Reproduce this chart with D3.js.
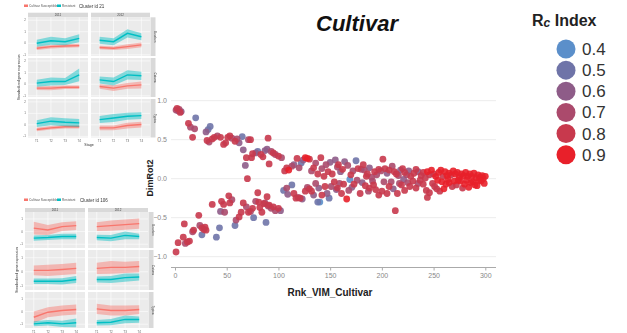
<!DOCTYPE html>
<html>
<head>
<meta charset="utf-8">
<script src="https://cdn.jsdelivr.net/npm/d3@7"></script>
<style>
  html, body { margin: 0; padding: 0; background: #fff; }
  svg { display: block; font-family: Arial, "Liberation Sans", sans-serif; }
</style>
</head>
<body>
<svg id="chart" width="627" height="333"></svg>
<script>
// ---- Main scatter: rank of variable importance vs. rotated dimension 2 ----
const upperRank = [1,2,3,4,5,6,13,15,17,19,20,30,32,34,31,33,36,38,41,44,47,49,51,53,55,58,60,62,65,66,68,69,70,71,73,74,75,78,80,83,85,87,89,90,91,93,95,97,100,103,106,108,110,113,115,118,120,122,124,126,128,130,132,134,136,138,141,142,144,146,148,150,152,155,157,158,160,162,164,167,170,172,175,177,180,182,183,185,186,188,190,193,195,197,199,201,203,205,207,210,212,214,216,218,220,222,224,226,228,231,233,235,238,240,242,244,246,248,250,252,255,257,259,261,263,265,267,269,271,273,275,277,279,281,283,285,287,289,291,293,295,297,298,300];
const upperDim = [0.88,0.90,0.87,0.89,0.85,0.86,0.71,0.66,0.53,0.64,0.78,0.60,0.63,0.67,0.49,0.47,0.51,0.53,0.55,0.53,0.44,0.46,0.53,0.55,0.52,0.48,0.51,0.46,0.54,0.37,0.17,0.27,0.00,0.50,0.50,0.27,0.32,0.33,0.35,0.31,0.28,0.36,0.38,0.52,0.19,0.35,0.33,0.31,0.29,0.27,0.10,0.14,0.11,0.16,0.18,0.26,0.14,0.20,0.24,0.27,0.26,0.25,0.10,0.14,0.20,0.06,0.27,0.13,0.03,0.18,0.09,0.21,0.06,0.24,0.15,0.18,0.09,0.12,0.22,0.17,0.05,0.10,0.23,0.13,0.12,0.18,0.11,0.03,0.06,0.14,0.02,0.09,0.05,0.12,0.10,0.25,0.13,0.07,0.11,0.16,0.09,0.06,0.04,0.11,0.13,0.08,0.05,0.10,0.03,0.07,0.12,0.09,0.04,0.08,0.01,0.09,0.05,0.11,0.06,0.03,0.08,0.11,0.03,0.09,0.04,0.07,0.05,0.10,0.06,0.08,0.02,0.06,0.04,0.08,0.03,0.06,0.03,0.07,0.01,0.05,0.02,0.04,0.00,0.03];
const upperRc = [0.7,0.8,0.6,0.7,0.8,0.6,0.8,0.7,0.8,0.7,0.5,0.6,0.5,0.5,0.8,0.7,0.8,0.8,0.7,0.8,0.8,0.8,0.8,0.8,0.7,0.8,0.7,0.6,0.5,0.6,0.6,0.8,0.8,0.7,0.8,0.8,0.8,0.6,0.5,0.8,0.8,0.6,0.6,0.8,0.8,0.7,0.8,0.7,0.8,0.7,0.8,0.8,0.9,0.7,0.6,0.8,0.7,0.5,0.6,0.9,0.9,0.8,0.7,0.8,0.7,0.8,0.8,0.7,0.8,0.7,0.8,0.6,0.8,0.6,0.7,0.8,0.6,0.8,0.6,0.7,0.8,0.7,0.5,0.8,0.7,0.8,0.7,0.8,0.8,0.6,0.7,0.8,0.7,0.8,0.7,0.8,0.8,0.6,0.8,0.7,0.8,0.8,0.7,0.6,0.8,0.8,0.7,0.6,0.8,0.8,0.8,0.6,0.8,0.8,0.8,0.9,0.8,0.9,0.8,0.9,0.9,0.9,0.8,0.9,0.9,0.9,0.8,0.9,0.9,0.9,0.9,0.9,0.9,0.9,0.9,0.9,0.9,0.9,0.9,0.9,0.9,0.9,0.9,0.9];

const lowerRank = [1,3,8,9,10,12,14,17,18,23,24,26,26,28,29,30,36,40,43,45,47,48,44,52,53,55,58,59,62,64,66,69,71,73,75,76,78,80,81,82,84,86,87,88,89,90,91,93,95,97,100,102,105,108,109,113,115,117,119,121,123,126,128,130,132,134,136,138,139,140,142,145,147,149,151,154,156,157,159,161,163,166,168,169,171,173,176,179,181,184,187,188,191,192,194,197,200,202,205,207,209,211,213,215,217,219,221,222,225,227,230,233,235,237,240,243,244,246,249,251,253,254,256,258,260,262,264,265,268,270,272,274,276,278,280,282,284,286,288,290,292,294,296,299];
const lowerDim = [-0.94,-0.82,-0.75,-0.58,-0.83,-0.81,-0.80,-0.68,-0.66,-0.47,-0.60,-0.63,-0.72,-0.65,-0.62,-0.66,-0.33,-0.75,-0.63,-0.29,-0.33,-0.43,-0.42,-0.22,-0.31,-0.27,-0.60,-0.53,-0.49,-0.43,-0.31,-0.36,-0.43,-0.42,-0.38,-0.50,-0.29,-0.18,-0.30,-0.37,-0.43,-0.32,-0.31,-0.56,-0.23,-0.35,-0.34,-0.38,-0.36,-0.41,-0.38,-0.41,-0.15,-0.12,-0.20,-0.08,-0.19,-0.25,-0.24,-0.25,-0.26,-0.16,-0.11,-0.13,-0.16,-0.21,-0.06,-0.30,-0.12,-0.30,-0.21,-0.10,-0.19,-0.25,-0.10,-0.04,-0.14,-0.12,-0.06,-0.19,-0.07,-0.26,-0.15,-0.01,-0.11,-0.07,-0.02,-0.19,-0.05,-0.09,-0.16,-0.12,-0.03,-0.08,-0.14,-0.21,-0.16,-0.04,-0.19,-0.10,-0.04,-0.13,-0.41,-0.19,-0.06,-0.08,-0.01,-0.15,-0.05,-0.10,-0.03,-0.12,-0.06,-0.02,-0.07,-0.15,-0.24,-0.18,-0.06,-0.10,-0.13,-0.02,-0.16,-0.04,-0.13,-0.07,-0.01,-0.05,-0.10,-0.03,-0.08,-0.02,-0.03,-0.12,-0.07,-0.02,-0.11,-0.05,-0.04,-0.08,-0.09,-0.02,-0.03,-0.06];
const lowerRc = [0.8,0.8,0.8,0.8,0.7,0.8,0.8,0.7,0.8,0.8,0.7,0.8,0.5,0.8,0.8,0.8,0.8,0.5,0.5,0.8,0.8,0.7,0.6,0.8,0.8,0.7,0.5,0.7,0.8,0.8,0.8,0.7,0.8,0.7,0.8,0.5,0.7,0.8,0.8,0.8,0.8,0.8,0.7,0.5,0.8,0.7,0.8,0.7,0.8,0.7,0.8,0.6,0.5,0.7,0.6,0.5,0.8,0.8,0.7,0.8,0.6,0.8,0.7,0.8,0.8,0.6,0.7,0.5,0.6,0.4,0.8,0.8,0.6,0.5,0.7,0.8,0.6,0.8,0.7,0.8,0.8,0.9,0.7,0.4,0.6,0.8,0.7,0.8,0.6,0.8,0.7,0.8,0.7,0.8,0.8,0.8,0.8,0.7,0.8,0.8,0.7,0.6,0.8,0.8,0.7,0.8,0.6,0.8,0.7,0.8,0.8,0.8,0.7,0.8,0.8,0.8,0.8,0.8,0.8,0.8,0.8,0.9,0.8,0.9,0.9,0.9,0.9,0.9,0.8,0.9,0.8,0.9,0.9,0.8,0.9,0.9,0.9,0.9,0.9,0.9,0.9,0.9,0.9,0.9];

const rcLevels = [0.4, 0.5, 0.6, 0.7, 0.8, 0.9];
const rcColors = ["#5b8fca", "#6f74a8", "#8e5c88", "#ab4a6c", "#c8394d", "#e8202a"];
const xTicks = [0, 50, 100, 150, 200, 250, 300];
const yTicks = [-1.0, -0.5, 0.0, 0.5, 1.0];

// ---- Small expression panels (two clusters, 2 years x 3 sites, 4 stages) ----
const insetStages = ["T1", "T2", "T3", "T4"];
const insetYears = ["2011", "2012"];
const insetSites = ["Bourbon", "Caturra", "Typica"];
const insetSeries = ["Cultivar Susceptible", "Resistant"];

const c21Red  = [[-0.43,-0.29,-0.23,-0.20],[-0.37,-0.43,-0.29,-0.14],[-0.34,-0.34,-0.26,-0.26],[-0.20,-0.34,-0.14,-0.06],[-0.40,-0.26,-0.17,-0.17],[-0.26,-0.26,-0.06,0.03]];
const c21Teal = [[0.00,0.22,0.14,0.43],[0.26,0.14,0.86,0.57],[0.09,0.23,0.23,0.80],[0.37,0.23,0.80,0.72],[0.11,0.32,0.23,0.17],[0.46,0.60,0.75,0.80]];
const c21RedHalf  = [[0.15,0.15,0.15,0.15],[0.15,0.15,0.2,0.2],[0.15,0.18,0.15,0.15],[0.2,0.25,0.25,0.3],[0.15,0.15,0.15,0.15],[0.2,0.2,0.25,0.25]];
const c21TealHalf = [[0.3,0.35,0.3,0.35],[0.3,0.3,0.35,0.3],[0.3,0.35,0.3,0.55],[0.3,0.35,0.4,0.35],[0.3,0.35,0.35,0.35],[0.3,0.35,0.3,0.3]];

const c106Red  = [[0.27,0.13,0.39,0.47],[0.39,0.47,0.55,0.63],[0.10,0.10,0.16,0.24],[0.24,0.31,0.31,0.37],[-0.45,-0.05,0.08,0.16],[0.21,0.08,0.08,0.16]];
const c106Teal = [[-0.52,-0.47,-0.39,-0.39],[-0.47,-0.52,-0.30,-0.39],[-0.68,-0.68,-0.68,-0.55],[-0.55,-0.55,-0.42,-0.37],[-0.97,-0.89,-0.97,-0.89],[-0.89,-0.84,-0.62,-0.63]];
const c106RedHalf  = [[0.5,0.4,0.35,0.35],[0.35,0.4,0.4,0.4],[0.35,0.4,0.4,0.4],[0.4,0.45,0.4,0.4],[0.45,0.4,0.4,0.4],[0.4,0.4,0.4,0.35]];
const c106TealHalf = [[0.2,0.2,0.22,0.22],[0.22,0.25,0.3,0.22],[0.2,0.2,0.22,0.25],[0.22,0.25,0.3,0.25],[0.2,0.22,0.25,0.35],[0.22,0.25,0.3,0.25]];

const FONT = "Arial, 'Liberation Sans', sans-serif";
const svg = d3.select("#chart");

// ---------- main scatter ----------
const x = d3.scaleLinear().domain([0, 300]).range([175, 485.3]);
const y = d3.scaleLinear().domain([-1, 1]).range([256.7, 100.7]);
const color = d3.scaleOrdinal().domain(rcLevels).range(rcColors);

const main = svg.append("g");

main.append("g").selectAll("line").data(yTicks).join("line")
  .attr("x1", 171).attr("x2", 496)
  .attr("y1", d => y(d)).attr("y2", d => y(d))
  .attr("stroke", "#ececec").attr("stroke-width", 1);

main.append("g").selectAll("text").data(yTicks).join("text")
  .attr("x", 167).attr("y", d => y(d) + 2.5)
  .attr("text-anchor", "end").attr("font-size", 7).attr("fill", "#888")
  .text(d => d3.format(".1f")(d));

const xAxis = main.append("g").attr("transform", "translate(0,267.5)")
  .call(d3.axisBottom(x).tickValues(xTicks).tickSize(3).tickPadding(3).tickFormat(d3.format("d")));
xAxis.select(".domain").remove();
xAxis.selectAll(".tick line").attr("stroke", "#aaa");
xAxis.selectAll(".tick text").attr("fill", "#888").attr("font-size", 7).attr("font-family", FONT);
main.append("line").attr("x1", 171).attr("x2", 496).attr("y1", 267.5).attr("y2", 267.5)
  .attr("stroke", "#aaa").attr("stroke-width", 1);

const pts = [];
upperRank.forEach((r, i) => pts.push({ r, v: upperDim[i], c: upperRc[i] }));
lowerRank.forEach((r, i) => pts.push({ r, v: lowerDim[i], c: lowerRc[i] }));
pts.sort((a, b) => a.c - b.c);

main.append("g").selectAll("circle").data(pts).join("circle")
  .attr("cx", d => x(d.r)).attr("cy", d => y(d.v)).attr("r", 3.4)
  .attr("fill", d => color(d.c)).attr("fill-opacity", 0.9);

main.append("text").attr("x", 330).attr("y", 296)
  .attr("text-anchor", "middle").attr("font-size", 10).attr("font-weight", "bold").attr("fill", "#222")
  .text("Rnk_VIM_Cultivar");
main.append("text").attr("transform", "translate(153,178) rotate(-90)")
  .attr("text-anchor", "middle").attr("font-size", 9).attr("font-weight", "bold").attr("fill", "#222")
  .text("DimRot2");

svg.append("text").attr("x", 357).attr("y", 31)
  .attr("text-anchor", "middle").attr("font-size", 22).attr("font-weight", "bold").attr("font-style", "italic").attr("fill", "#111")
  .text("Cultivar");

// ---------- Rc legend ----------
const leg = svg.append("g");
const lt = leg.append("text").attr("x", 532).attr("y", 26).attr("font-weight", "bold").attr("fill", "#222");
lt.append("tspan").attr("font-size", 16).text("R");
lt.append("tspan").attr("font-size", 12).attr("font-style", "italic").attr("dy", 1).text("c");
lt.append("tspan").attr("font-size", 16).attr("dy", -1).text(" Index");

const legY = d3.scalePoint().domain(rcLevels).range([49, 154.7]);
leg.selectAll("circle").data(rcLevels).join("circle")
  .attr("cx", 566).attr("cy", d => legY(d)).attr("r", 9.5).attr("fill", d => color(d));
leg.selectAll("text.lab").data(rcLevels).join("text").attr("class", "lab")
  .attr("x", 582).attr("y", d => legY(d) + 6).attr("font-size", 17).attr("fill", "#333")
  .text(d => d3.format(".1f")(d));

// ---------- expression insets ----------
function drawInset(cfg) {
  const g = svg.append("g").attr("font-family", FONT).style("filter", "blur(0.45px)");
  const red = "#F8766D", teal = "#00BFC4";
  // legend + title
  g.append("rect").attr("x", cfg.legX).attr("y", cfg.legY - 1.5).attr("width", 4).attr("height", 2.5).attr("fill", red);
  g.append("text").attr("x", cfg.legX + 5).attr("y", cfg.legY + 1).attr("font-size", 3.2).attr("fill", "#555").text(insetSeries[0]);
  g.append("rect").attr("x", cfg.legX + 33).attr("y", cfg.legY - 1.5).attr("width", 4).attr("height", 2.5).attr("fill", teal);
  g.append("text").attr("x", cfg.legX + 38).attr("y", cfg.legY + 1).attr("font-size", 3.2).attr("fill", "#555").text(insetSeries[1]);
  g.append("text").attr("x", cfg.titleX).attr("y", cfg.legY + 1.5).attr("font-size", 4.5).attr("fill", "#333").text(cfg.title);

  const yS = d3.scaleLinear().domain(cfg.yDomain);
  cfg.cols.forEach((col, ci) => {
    // top strip
    g.append("rect").attr("x", col[0]).attr("y", cfg.stripY[0]).attr("width", col[1] - col[0]).attr("height", cfg.stripY[1] - cfg.stripY[0]).attr("fill", "#d9d9d9");
    g.append("text").attr("x", (col[0] + col[1]) / 2).attr("y", cfg.stripY[1] - 1).attr("text-anchor", "middle").attr("font-size", 3).attr("fill", "#444").text(insetYears[ci]);
    const xS = d3.scalePoint().domain(insetStages).range(col).padding(0.62);
    cfg.rows.forEach((row, ri) => {
      const k = ri * 2 + ci;
      yS.range([row[1], row[0]]);
      g.append("rect").attr("x", col[0]).attr("y", row[0]).attr("width", col[1] - col[0]).attr("height", row[1] - row[0]).attr("fill", "#ebebeb");
      cfg.ticks.forEach(t => g.append("line").attr("x1", col[0]).attr("x2", col[1]).attr("y1", yS(t)).attr("y2", yS(t)).attr("stroke", "#fff").attr("stroke-width", 0.6));
      insetStages.forEach(s => g.append("line").attr("x1", xS(s)).attr("x2", xS(s)).attr("y1", row[0]).attr("y2", row[1]).attr("stroke", "#fff").attr("stroke-width", 0.6));
      [[cfg.redMean, cfg.redHalf, red], [cfg.tealMean, cfg.tealHalf, teal]].forEach(([m, h, c]) => {
        const vals = insetStages.map((s, i) => ({ s, v: m[k][i], h: h[k][i] }));
        const area = d3.area().x(d => xS(d.s)).y0(d => yS(d.v - d.h)).y1(d => yS(d.v + d.h));
        g.append("path").attr("d", area(vals)).attr("fill", c).attr("fill-opacity", 0.45);
        const line = d3.line().x(d => xS(d.s)).y(d => yS(d.v));
        g.append("path").attr("d", line(vals)).attr("fill", "none").attr("stroke", c).attr("stroke-width", 1.4);
      });
      if (ci === 0) {
        cfg.ticks.forEach(t => g.append("text").attr("x", col[0] - 2).attr("y", yS(t) + 1).attr("text-anchor", "end").attr("font-size", 3).attr("fill", "#666").text(t));
      }
      if (ci === 1) {
        g.append("rect").attr("x", col[1] + 0.5).attr("y", row[0]).attr("width", cfg.stripW).attr("height", row[1] - row[0]).attr("fill", "#d9d9d9");
        g.append("text").attr("transform", `translate(${col[1] + 0.5 + cfg.stripW / 2 + 1},${(row[0] + row[1]) / 2}) rotate(90)`)
          .attr("text-anchor", "middle").attr("font-size", 3).attr("fill", "#444").text(insetSites[ri]);
      }
    });
    insetStages.forEach(s => g.append("text").attr("x", xS(s)).attr("y", cfg.xLabY).attr("text-anchor", "middle").attr("font-size", 3).attr("fill", "#666").text(s));
  });
  g.append("text").attr("transform", `translate(${cfg.yTitleX},${(cfg.rows[0][0] + cfg.rows[2][1]) / 2}) rotate(-90)`)
    .attr("text-anchor", "middle").attr("font-size", 3.4).attr("fill", "#333").text("Standardized gene expression");
  if (cfg.showStage) {
    g.append("text").attr("x", (cfg.cols[0][0] + cfg.cols[1][1]) / 2).attr("y", cfg.xLabY + 4.5).attr("text-anchor", "middle").attr("font-size", 3.6).attr("fill", "#333").text("Stage");
  }
}

drawInset({
  title: "Cluster id 21", legX: 24, legY: 6, titleX: 79,
  cols: [[28, 88], [91, 150]], stripY: [12.7, 17.3], stripW: 5,
  rows: [[17.3, 56], [58, 97], [99, 137.5]],
  yDomain: [-1.1, 2.25], ticks: [-1, 0, 1, 2],
  redMean: c21Red, tealMean: c21Teal, redHalf: c21RedHalf, tealHalf: c21TealHalf,
  xLabY: 141.5, yTitleX: 20, showStage: true
});
drawInset({
  title: "Cluster id 106", legX: 24, legY: 200, titleX: 80,
  cols: [[25, 85], [88, 148]], stripY: [208, 212], stripW: 5,
  rows: [[212, 248], [250, 290], [292, 328]],
  yDomain: [-1.3, 1.55], ticks: [-1, 0, 1],
  redMean: c106Red, tealMean: c106Teal, redHalf: c106RedHalf, tealHalf: c106TealHalf,
  xLabY: 332.5, yTitleX: 18, showStage: false
});
</script>
</body>
</html>
